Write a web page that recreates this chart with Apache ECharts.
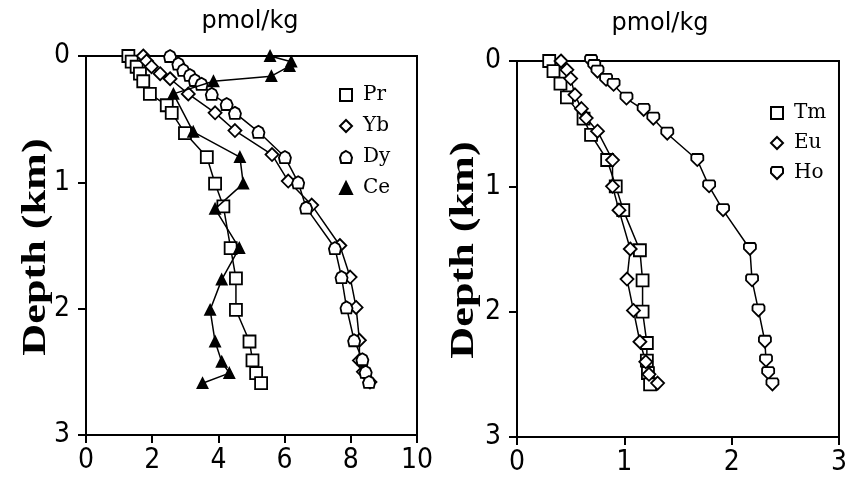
<!DOCTYPE html>
<html>
<head>
<meta charset="utf-8">
<script src="https://cdn.jsdelivr.net/npm/echarts@6/dist/echarts.min.js"></script>
<style>html,body{margin:0;padding:0;background:#fff;}#c{width:850px;height:482px;}</style>
</head>
<body>
<div id="c"></div>
<script>
// ---- Left panel (pmol/kg, 0-10) ----
const prDepth = [0, 0.045, 0.085, 0.14, 0.20, 0.30, 0.39, 0.45, 0.61, 0.80, 1.01, 1.19, 1.52, 1.76, 2.01, 2.26, 2.41, 2.51, 2.59];
const prVal   = [1.28, 1.38, 1.53, 1.63, 1.73, 1.93, 2.44, 2.59, 2.99, 3.65, 3.90, 4.15, 4.37, 4.53, 4.53, 4.94, 5.03, 5.14, 5.29];

const ybDepth = [0, 0.04, 0.085, 0.14, 0.18, 0.30, 0.45, 0.59, 0.78, 0.99, 1.18, 1.50, 1.75, 1.99, 2.25, 2.41, 2.50, 2.58];
const ybVal   = [1.73, 1.83, 1.98, 2.24, 2.54, 3.09, 3.90, 4.50, 5.62, 6.11, 6.82, 7.67, 7.98, 8.16, 8.26, 8.26, 8.38, 8.58];

const dyDepth = [0, 0.06, 0.11, 0.15, 0.19, 0.22, 0.30, 0.38, 0.45, 0.60, 0.80, 1.00, 1.20, 1.52, 1.75, 1.99, 2.25, 2.40, 2.50, 2.58];
const dyVal   = [2.54, 2.79, 2.94, 3.14, 3.29, 3.49, 3.80, 4.25, 4.50, 5.21, 6.01, 6.41, 6.65, 7.52, 7.72, 7.87, 8.10, 8.35, 8.45, 8.55];

const ceDepth = [0, 0.045, 0.08, 0.16, 0.20, 0.30, 0.60, 0.80, 1.01, 1.21, 1.52, 1.77, 2.01, 2.26, 2.42, 2.51, 2.59];
const ceVal   = [5.56, 6.20, 6.15, 5.60, 3.85, 2.64, 3.24, 4.65, 4.75, 3.90, 4.63, 4.10, 3.75, 3.90, 4.10, 4.33, 3.52];

// ---- Right panel (pmol/kg, 0-3) ----
const tmDepth = [0, 0.08, 0.18, 0.29, 0.46, 0.59, 0.79, 1.00, 1.19, 1.51, 1.75, 2.00, 2.25, 2.39, 2.49, 2.58];
const tmVal   = [0.30, 0.34, 0.405, 0.465, 0.62, 0.69, 0.84, 0.92, 0.99, 1.145, 1.17, 1.17, 1.21, 1.21, 1.22, 1.24];

const euDepth = [0, 0.07, 0.14, 0.27, 0.38, 0.455, 0.56, 0.79, 1.00, 1.19, 1.50, 1.74, 1.99, 2.24, 2.40, 2.50, 2.57];
const euVal   = [0.41, 0.465, 0.50, 0.54, 0.60, 0.645, 0.75, 0.89, 0.89, 0.95, 1.055, 1.025, 1.085, 1.145, 1.20, 1.23, 1.31];

const hoDepth = [0, 0.04, 0.085, 0.15, 0.19, 0.30, 0.39, 0.46, 0.58, 0.79, 1.00, 1.19, 1.50, 1.75, 1.99, 2.24, 2.39, 2.49, 2.58];
const hoVal   = [0.69, 0.72, 0.75, 0.83, 0.90, 1.02, 1.18, 1.27, 1.40, 1.68, 1.79, 1.92, 2.17, 2.19, 2.25, 2.31, 2.32, 2.34, 2.38];

// ---- Axis ticks ----
const depthTicks = [0, 1, 2, 3];
const leftXTicks = [0, 2, 4, 6, 8, 10];
const rightXTicks = [0, 1, 2, 3];
const unitLabel = 'pmol/kg';
const depthLabel = 'Depth (km)';

function pairs(v, d) { return v.map((x, i) => [x, d[i]]); }

const DY_PATH = 'path://M5,0 L8.5,2 L10,5.5 L9,10 L1,10 L0,5.5 L1.5,2 Z';
const HO_PATH = 'path://M1,0 L9,0 L10,1.5 L10,5 L5,10 L0,5 L0,1.5 Z';

const tickFont = "'DejaVu Sans Condensed','Liberation Sans Narrow','Liberation Sans',sans-serif";
const serif = "'Liberation Serif','DejaVu Serif',serif";
const legendFont = "'DejaVu Serif','Liberation Serif',serif";

function mkSeries(name, vals, depths, idx, symbol, size, filled) {
  return {
    type: 'line', name: name, xAxisIndex: idx, yAxisIndex: idx,
    data: pairs(vals, depths),
    symbol: symbol, symbolSize: size, showSymbol: true,
    lineStyle: { color: '#000', width: 1.5 },
    itemStyle: { color: filled ? '#000' : '#fff', borderColor: '#000', borderWidth: 1.8 },
    emphasis: { disabled: true }, z: filled ? 3 : 2
  };
}

function yAx(idx) {
  return {
    type: 'value', gridIndex: idx, inverse: true, min: 0, max: 3, interval: 1,
    axisLine: { show: true, lineStyle: { color: '#000', width: 2 } },
    axisTick: { show: true, inside: false, length: 8, lineStyle: { color: '#000', width: 2 } },
    axisLabel: { color: '#000', fontSize: 28, fontFamily: tickFont, margin: 16,
      formatter: v => depthTicks.indexOf(v) >= 0 ? String(v) : '' },
    splitLine: { show: false }
  };
}
function xAx(idx, max, interval, ticks) {
  return {
    type: 'value', gridIndex: idx, min: 0, max: max, interval: interval, position: 'bottom',
    axisLine: { show: true, onZero: false, lineStyle: { color: '#000', width: 2 } },
    axisTick: { show: true, inside: false, length: 8, lineStyle: { color: '#000', width: 2 } },
    axisLabel: { color: '#000', fontSize: 28, fontFamily: tickFont, margin: 12,
      formatter: v => ticks.indexOf(v) >= 0 ? String(v) : '' },
    splitLine: { show: false }
  };
}

const chart = echarts.init(document.getElementById('c'), null, { renderer: 'canvas' });
chart.setOption({
  animation: false,
  backgroundColor: '#fff',
  grid: [
    { left: 86, top: 56, width: 331, height: 379, show: true, borderColor: '#000', borderWidth: 2, backgroundColor: 'transparent' },
    { left: 517, top: 61, width: 331, height: 376, show: true, borderColor: '#000', borderWidth: 2, backgroundColor: 'transparent' }
  ],
  xAxis: [xAx(0, 10, 2, leftXTicks), xAx(1, 3, 1, rightXTicks)],
  yAxis: [yAx(0), yAx(1)],
  legend: [
    {
      orient: 'vertical', left: 334, top: 80, itemWidth: 12, itemHeight: 12, itemGap: 11,
      selectedMode: false,
      textStyle: { color: '#000', fontSize: 20, fontFamily: legendFont, padding: [0, 0, 0, 6] },
      data: [
        { name: 'Pr', icon: 'rect' },
        { name: 'Yb', icon: 'diamond' },
        { name: 'Dy', icon: DY_PATH },
        { name: 'Ce', icon: 'triangle', itemStyle: { color: '#000' } }
      ]
    },
    {
      orient: 'vertical', left: 765, top: 98, itemWidth: 12, itemHeight: 12, itemGap: 10,
      selectedMode: false,
      textStyle: { color: '#000', fontSize: 20, fontFamily: legendFont, padding: [0, 0, 0, 6] },
      data: [
        { name: 'Tm', icon: 'rect' },
        { name: 'Eu', icon: 'diamond' },
        { name: 'Ho', icon: HO_PATH }
      ]
    }
  ],
  graphic: [
    { type: 'text', x: 250, y: 22, style: { text: unitLabel, fill: '#000', font: "24px 'DejaVu Sans',sans-serif", textAlign: 'center', textVerticalAlign: 'middle' } },
    { type: 'text', x: 660, y: 24, style: { text: unitLabel, fill: '#000', font: "24px 'DejaVu Sans',sans-serif", textAlign: 'center', textVerticalAlign: 'middle' } },
    { type: 'text', x: 36, y: 247, rotation: Math.PI / 2, scaleX: 1.3, style: { text: depthLabel, fill: '#000', font: "bold 34px " + serif, textAlign: 'center', textVerticalAlign: 'middle' } },
    { type: 'text', x: 464, y: 250, rotation: Math.PI / 2, scaleX: 1.3, style: { text: depthLabel, fill: '#000', font: "bold 34px " + serif, textAlign: 'center', textVerticalAlign: 'middle' } }
  ],
  series: [
    mkSeries('Pr', prVal, prDepth, 0, 'rect', 12, false),
    mkSeries('Yb', ybVal, ybDepth, 0, 'diamond', 13, false),
    mkSeries('Dy', dyVal, dyDepth, 0, DY_PATH, 12, false),
    mkSeries('Ce', ceVal, ceDepth, 0, 'triangle', 10, true),
    mkSeries('Tm', tmVal, tmDepth, 1, 'rect', 12, false),
    mkSeries('Eu', euVal, euDepth, 1, 'diamond', 13, false),
    mkSeries('Ho', hoVal, hoDepth, 1, HO_PATH, 12, false)
  ]
});
</script>
</body>
</html>
